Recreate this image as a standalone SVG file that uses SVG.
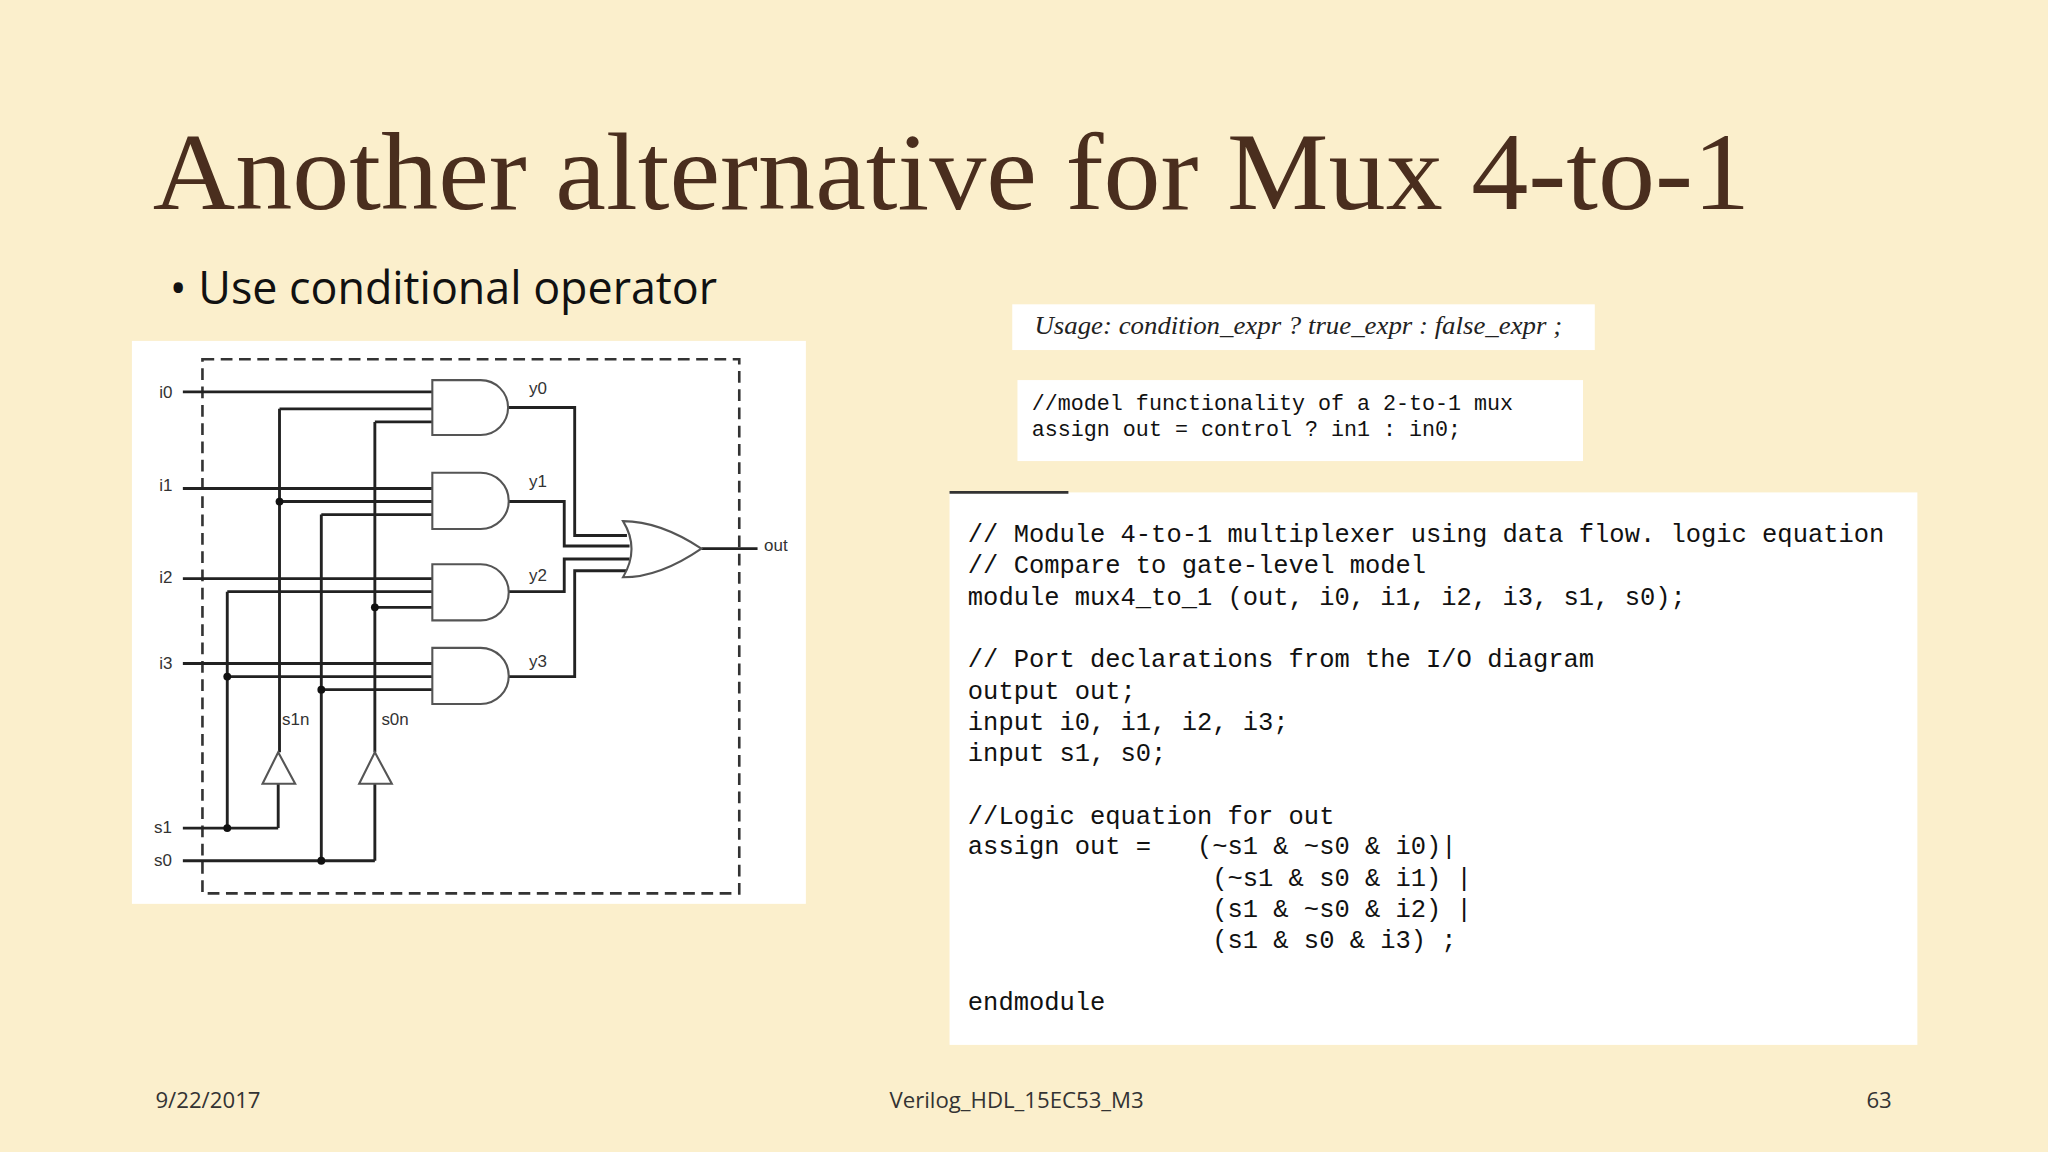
<svg xmlns="http://www.w3.org/2000/svg" width="2048" height="1152" viewBox="0 0 2048 1152">
<style>
.w{fill:none;stroke:#222;stroke-width:2.2}
.g{fill:#fff;stroke:#555;stroke-width:1.6}
.lb{font-family:"Liberation Sans",Arial,sans-serif;font-size:13px;fill:#333}
.code{font-family:"Liberation Mono",monospace;font-size:19.5px;fill:#111;white-space:pre}
.ft{font-family:"Open Sans",sans-serif;font-size:17px;fill:#333}
</style>
<rect width="2048" height="1152" fill="#fbefcc"/>
<g transform="scale(1.30612)">
<g id="title"><text x="117" y="160" font-family="Liberation Serif,serif" font-size="84" fill="#4a2e1e" textLength="1223" lengthAdjust="spacingAndGlyphs">Another alternative for Mux 4-to-1</text></g>
<g id="bullet"><text x="130" y="233" font-family="Open Sans,sans-serif" font-size="35" fill="#111" textLength="419" lengthAdjust="spacingAndGlyphs">• Use conditional operator</text></g>
<g id="circuit">
<rect x="101" y="261" width="516" height="431" fill="#fff"/>
<rect x="155" y="275" width="411" height="409" fill="none" stroke="#333" stroke-width="2" stroke-dasharray="9,5"/>
<g class="w">
<path d="M140 300H331M140 374H331M140 443H331M140 508H331M140 634H213M140 659H287"/>
<path d="M214 313H331M287 323H331M214 313V576M287 323V576"/>
<path d="M214 384H331M246 394H331M174 453H331M287 465H331M174 518H331M246 528H331"/>
<path d="M174 453V634M246 394V659M213 600V634M287 600V659"/>
<path d="M389 312H440V410H480M389 384H432V418H482M389 453H432V428H482M389 518H440V437H480M537 420H580"/>
</g>
<g fill="#111"><circle cx="214" cy="384" r="3"/><circle cx="287" cy="465" r="3"/><circle cx="174" cy="518" r="3"/><circle cx="246" cy="528" r="3"/><circle cx="174" cy="634" r="3"/><circle cx="246" cy="659" r="3"/></g>
<g class="g">
<path d="M331 291H368A21 21 0 0 1 368 333H331Z"/>
<path d="M331 362H368A21.5 21.5 0 0 1 368 405H331Z"/>
<path d="M331 432H368A21.5 21.5 0 0 1 368 475H331Z"/>
<path d="M331 496H368A21.5 21.5 0 0 1 368 539H331Z"/>
<path d="M477 399Q505 399 537 420Q505 442 477 442Q490 420 477 399Z"/>
<path d="M213 576L201 600H226Z"/><path d="M287 576L275 600H300Z"/>
</g>
<g class="lb"><text x="122" y="305">i0</text><text x="122" y="376">i1</text><text x="122" y="446">i2</text><text x="122" y="512">i3</text><text x="118" y="638">s1</text><text x="118" y="663">s0</text>
<text x="405" y="302">y0</text><text x="405" y="373">y1</text><text x="405" y="445">y2</text><text x="405" y="511">y3</text><text x="585" y="422">out</text><text x="216" y="555">s1n</text><text x="292" y="555">s0n</text></g>
</g>
<g id="usage"><rect x="775" y="233" width="446" height="35" fill="#fff"/><text x="792" y="256" font-family="Liberation Serif,serif" font-style="italic" font-size="19" fill="#222" textLength="404" lengthAdjust="spacingAndGlyphs">Usage: condition_expr ? true_expr : false_expr ;</text></g>
<g id="mux2"><rect x="779" y="291" width="433" height="62" fill="#fff"/>
<text class="code" x="790" y="314" style="font-size:16.6px">//model functionality of a 2-to-1 mux</text>
<text class="code" x="790" y="334" style="font-size:16.6px">assign out = control ? in1 : in0;</text></g>
<g id="code"><rect x="727" y="377" width="741" height="423" fill="#fff"/><path d="M727 377H818" stroke="#333" stroke-width="2"/>
<text class="code" x="741" y="415">// Module 4-to-1 multiplexer using data flow. logic equation</text>
<text class="code" x="741" y="439">// Compare to gate-level model</text>
<text class="code" x="741" y="463">module mux4_to_1 (out, i0, i1, i2, i3, s1, s0);</text>
<text class="code" x="741" y="511">// Port declarations from the I/O diagram</text>
<text class="code" x="741" y="535">output out;</text>
<text class="code" x="741" y="559">input i0, i1, i2, i3;</text>
<text class="code" x="741" y="583">input s1, s0;</text>
<text class="code" x="741" y="631">//Logic equation for out</text>
<text class="code" x="741" y="654">assign out =   (~s1 &amp; ~s0 &amp; i0)|</text>
<text class="code" x="741" y="678">                (~s1 &amp; s0 &amp; i1) |</text>
<text class="code" x="741" y="702">                (s1 &amp; ~s0 &amp; i2) |</text>
<text class="code" x="741" y="726">                (s1 &amp; s0 &amp; i3) ;</text>
<text class="code" x="741" y="773">endmodule</text></g>
<g id="footer"><text class="ft" x="119" y="848">9/22/2017</text><text class="ft" x="681" y="848">Verilog_HDL_15EC53_M3</text><text class="ft" x="1429" y="848">63</text></g>
</g>
</svg>
